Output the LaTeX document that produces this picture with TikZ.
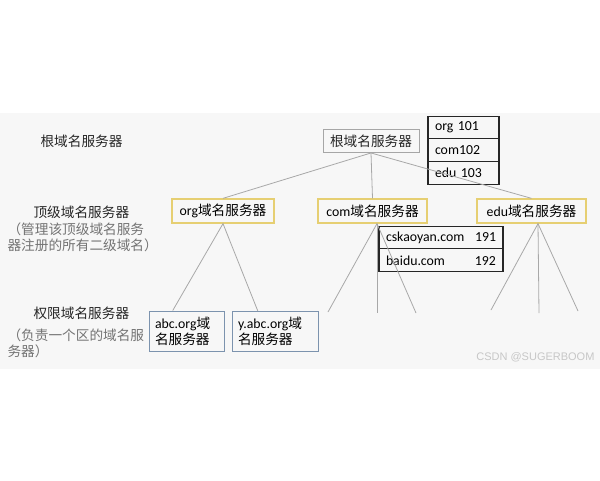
\documentclass[tikz,border=0pt]{standalone}
\usepackage{fontspec}
\setmainfont{Carlito}
\setsansfont{Liberation Sans}
\newfontfamily\cjk{Noto Sans CJK SC}[Scale=0.99]
\usetikzlibrary{calc}
\definecolor{panel}{HTML}{F7F7F7}
\definecolor{gold}{HTML}{E6CF72}
\definecolor{steel}{HTML}{7C93AE}
\definecolor{wire}{HTML}{A8A8A8}
\tikzset{
	srv/.style={draw, inner sep=0pt},
	rootsrv/.style={srv, draw=black!35, line width=0.9pt, minimum width=96pt, minimum height=23pt, text=black!85},
	tldsrv/.style={srv, draw=gold, line width=1.3pt, minimum height=24pt},
	zonesrv/.style={srv, draw=steel, line width=0.9pt, minimum height=40pt, inner xsep=6pt, align=left},
	cell/.style={draw=black!85, line width=1.1pt, inner ysep=0pt, inner xsep=7pt, minimum height=22.8pt, text width=#1, align=left},
	wire/.style={draw=wire, line width=0.8pt},
	side/.style={anchor=west, text=black!85},
	note/.style={anchor=west, text=black!55}
}

\begin{document}
\begin{tikzpicture}[x=1pt, y=-1pt, every node/.style={font=\fontsize{13.8}{16}\selectfont}]
		%%%%% START %%%%%
		\useasboundingbox (0, 0) rectangle (600, 480);
		\fill[panel] (0, 113) rectangle (600, 369);
		
		% left column
		\node[side] (lvlroot) at (37, 141) {\cjk 根域名服务器};
		\node[side] (lvltld) at (30, 212) {\cjk 顶级域名服务器};
		\node[note] (lvltlda) at (4, 229.5) {\cjk （管理该顶级域名服务};
		\node[note] (lvltldb) at (4, 245.5) {\cjk 器注册的所有二级域名）};
		\node[side] (lvlzone) at (30, 313) {\cjk 权限域名服务器};
		\node[note] (lvlzonea) at (4, 335) {\cjk （负责一个区的域名服};
		\node[note] (lvlzoneb) at (4, 351) {\cjk 务器）};
		
		% servers
		\node[rootsrv] (root) at (371, 141) {\cjk 根域名服务器};
		\node[tldsrv, minimum width=102pt] (org) at (223, 211) {org{\cjk 域名服务器}};
		\node[tldsrv, minimum width=109pt] (com) at (372.5, 211) {com{\cjk 域名服务器}};
		\node[tldsrv, minimum width=109pt] (edu) at (531.5, 211) {edu{\cjk 域名服务器}};
		\node[zonesrv, minimum width=75pt, text width=63pt] (abc) at (186.5, 331) {abc.org{\cjk 域}\\{\cjk 名服务器}};
		\node[zonesrv, minimum width=86pt, text width=74pt] (yabc) at (275, 331.5) {y.abc.org{\cjk 域}\\{\cjk 名服务器}};
		
		% root table
		\node[cell=57pt] (rootorg) at (463.5, 127.5) {org 101};
		\node[cell=57pt] (rootcom) at (463.5, 150.2) {com102};
		\node[cell=57pt] (rootedu) at (463.5, 172.9) {edu 103};
		
		% com table
		\node[cell=110pt] (comcsk) at (441, 237.5) {cskaoyan.com\hfill 191};
		\node[cell=110pt] (combd) at (441, 260.3) {baidu.com\hfill 192};
		
		% branches
		\draw[wire] (root.south) -- (org.north);
		\draw[wire] (root.south) -- (com.north);
		\draw[wire] (root.south) -- (edu.north);
		\draw[wire] (abc.124) -- (org.south) -- (yabc.130);
		
		\coordinate (comfoot) at ($(com.south)+(4.5, 0)$);
		\coordinate (comleaf1) at (328, 312);
		\coordinate (comleaf2) at (377, 313);
		\coordinate (comleaf3) at (416, 313);
		\draw[wire] (comleaf1) -- (comfoot) -- (comleaf3);
		\draw[wire] (comfoot) -- (comleaf2);
		
		\coordinate (edufoot) at ($(edu.south)+(6.5, 0)$);
		\coordinate (eduleaf1) at (491, 310);
		\coordinate (eduleaf2) at (539, 313);
		\coordinate (eduleaf3) at (578, 311);
		\draw[wire] (eduleaf1) -- (edufoot) -- (eduleaf3);
		\draw[wire] (edufoot) -- (eduleaf2);
		
		\node[anchor=east, text=black!22, font=\sffamily\fontsize{11}{13}\selectfont] (credit) at (598, 357) {CSDN @SUGERBOOM};
		%%%%% END %%%%%
	\end{tikzpicture}
\end{document}
